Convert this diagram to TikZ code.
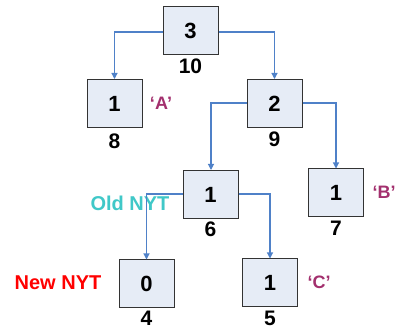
\documentclass[tikz,border=0pt]{standalone}
\usepackage{fontspec}
\setmainfont{Liberation Sans}
\usetikzlibrary{arrows.meta}
\definecolor{boxfill}{HTML}{E6ECF6}
\definecolor{boxline}{HTML}{333333}
\definecolor{edge}{HTML}{4F81C8}
\definecolor{sym}{HTML}{A3306E}
\definecolor{oldc}{HTML}{40C8C8}
\begin{document}
\begin{tikzpicture}[x=1pt,y=-1pt,
  tn/.style={draw=boxline,line width=1pt,fill=boxfill,minimum width=55pt,minimum height=48pt,inner sep=0pt,font=\fontsize{22}{22}\selectfont\bfseries},
  num/.style={font=\fontsize{21}{21}\selectfont\bfseries,inner sep=0pt},
  sl/.style={font=\fontsize{18}{18}\selectfont\bfseries,text=sym,inner sep=0pt},
  ed/.style={draw=edge,line width=1.1pt,-{Triangle[length=6pt,width=6pt]}}]
\useasboundingbox[fill=white] (0,0) rectangle (397,331);
\node[tn] (n10) at (190.5,31) {3};
\node[tn] (n8) at (114.5,103.5) {1};
\node[tn] (n9) at (274.5,103.5) {2};
\node[tn] (n6) at (210.5,194.5) {1};
\node[tn] (n7) at (336,193) {1};
\node[tn] (n4) at (146.5,284) {0};
\node[tn] (n5) at (270,283) {1};
\node[num] (l10) at (190.5,66) {10};
\node[num] (l8) at (114.5,141) {8};
\node[num] (l9) at (274.5,139) {9};
\node[num] (l6) at (210.5,229) {6};
\node[num] (l7) at (336,228) {7};
\node[num] (l4) at (146.5,318.5) {4};
\node[num] (l5) at (270,318) {5};
\node[sl] (la) at (161,103) {‘A’};
\node[sl] (lb) at (384,192) {‘B’};
\node[sl] (lc) at (319,282) {‘C’};
\node[font=\fontsize{20}{20}\selectfont\bfseries,text=oldc,inner sep=0pt] (old) at (130,203) {Old NYT};
\node[font=\fontsize{20}{20}\selectfont\bfseries,text=red,inner sep=0pt] (new) at (58,283) {New NYT};
\draw[ed] (n10.west |- 0,32) -| (n8.north);
\draw[ed] (n10.east |- 0,32) -| (n9.north);
\draw[ed] (n9.west |- 0,103) -| (n6.north west -| 211,0);
\draw[ed] (n9.east |- 0,103) -| (n7.north);
\draw[ed] (n6.west |- 0,194) -| (n4.north);
\draw[ed] (n6.east |- 0,194) -| (n5.north);
\end{tikzpicture}
\end{document}
